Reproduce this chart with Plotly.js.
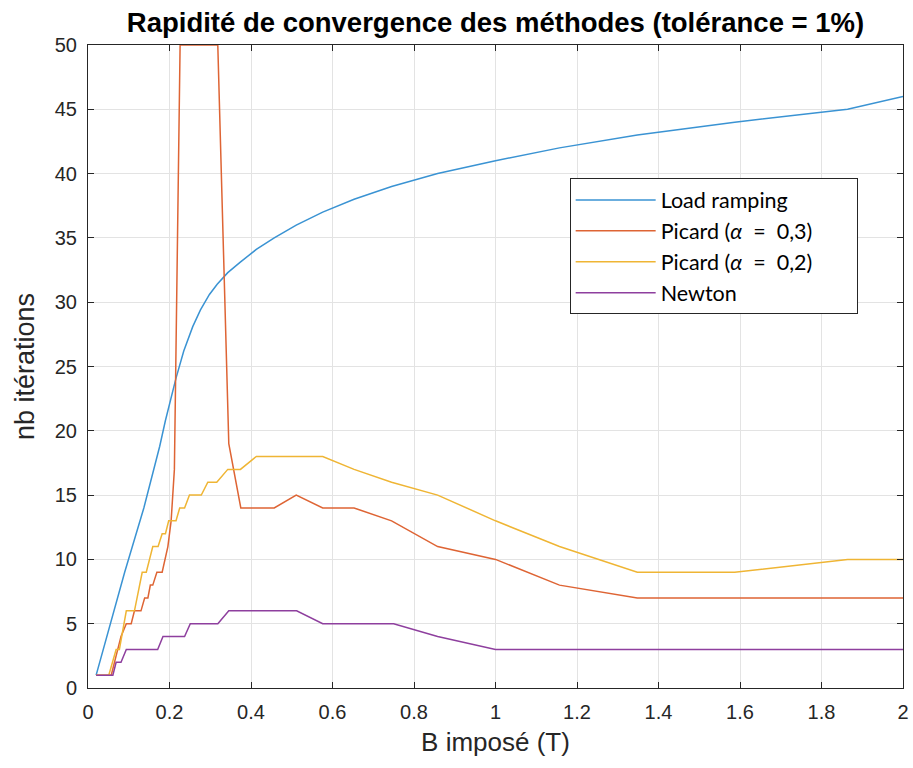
<!DOCTYPE html>
<html>
<head>
<meta charset="utf-8">
<script src="https://cdn.plot.ly/plotly-3.0.1.min.js"></script>
<style>html,body{margin:0;padding:0;background:#fff;}#chart{width:913px;height:768px;}</style>
</head>
<body>
<div id="chart"></div>
<script>
// B imposé (T) sample points and iteration counts
const bLoad = [0.02, 0.055, 0.09, 0.137, 0.161, 0.176, 0.19, 0.2, 0.216, 0.235, 0.257, 0.276, 0.298, 0.317, 0.343, 0.373, 0.413, 0.457, 0.511, 0.576, 0.653, 0.745, 0.858, 1.0, 1.157, 1.348, 1.587, 1.864, 2.0];
const nLoad = [1, 5, 9, 14, 17, 18.8, 20.8, 22.1, 24.1, 26.2, 28.1, 29.4, 30.6, 31.4, 32.3, 33.1, 34.1, 35, 36, 37, 38, 39, 40, 41, 42, 43, 44, 45, 46];

const bPicard3 = [0.02, 0.057, 0.073, 0.081, 0.094, 0.106, 0.114, 0.13, 0.139, 0.147, 0.153, 0.159, 0.169, 0.182, 0.196, 0.204, 0.212, 0.226, 0.3185, 0.3455, 0.375, 0.457, 0.511, 0.576, 0.653, 0.745, 0.858, 1.0, 1.157, 1.348, 2.0];
const nPicard3 = [1, 1, 3, 4, 5, 5, 6, 6, 7, 7, 8, 8, 9, 9, 11, 13, 17, 50, 50, 19, 14, 14, 15, 14, 14, 13, 11, 10, 8, 7, 7];

const bPicard2 = [0.02, 0.051, 0.069, 0.077, 0.094, 0.114, 0.133, 0.143, 0.159, 0.172, 0.182, 0.19, 0.198, 0.216, 0.225, 0.237, 0.249, 0.278, 0.294, 0.316, 0.343, 0.374, 0.413, 0.576, 0.653, 0.745, 0.858, 1.0, 1.157, 1.348, 1.587, 1.864, 2.0];
const nPicard2 = [1, 1, 3, 3, 6, 6, 9, 9, 11, 11, 12, 12, 13, 13, 14, 14, 15, 15, 16, 16, 17, 17, 18, 18, 17, 16, 15, 13, 11, 9, 9, 10, 10];

const bNewton = [0.02, 0.061, 0.069, 0.081, 0.094, 0.171, 0.184, 0.237, 0.251, 0.3186, 0.3455, 0.512, 0.576, 0.75, 0.858, 1.0, 2.0];
const nNewton = [1, 1, 2, 2, 3, 3, 4, 4, 5, 5, 6, 6, 5, 5, 4, 3, 3];

const seriesNames = ['Load ramping', 'Picard (<i>α</i>\u00a0 =\u00a0 0,3)', 'Picard (<i>α</i>\u00a0 =\u00a0 0,2)', 'Newton'];
const legendPad = '\u00a0\u00a0\u00a0\u00a0\u00a0\u00a0\u00a0';
const xTickVals = [0, 0.2, 0.4, 0.6, 0.8, 1, 1.2, 1.4, 1.6, 1.8, 2];
const xTickText = ['0', '0.2', '0.4', '0.6', '0.8', '1', '1.2', '1.4', '1.6', '1.8', '2'];
const yTickVals = [0, 5, 10, 15, 20, 25, 30, 35, 40, 45, 50];

const colors = ['#3a93d3', '#de6434', '#efb534', '#8e3f9e'];
const xs = [bLoad, bPicard3, bPicard2, bNewton];
const ys = [nLoad, nPicard3, nPicard2, nNewton];

const traces = xs.map((x, i) => ({
  x: x, y: ys[i], name: seriesNames[i] + legendPad, type: 'scatter', mode: 'lines',
  line: {color: colors[i], width: 1.5}
}));

const axisCommon = {
  showline: true, linecolor: '#262626', linewidth: 1, mirror: 'ticks',
  ticks: 'inside', ticklen: 6, tickcolor: '#262626',
  showgrid: true, gridcolor: '#e3e3e3', gridwidth: 1, zeroline: false,
  tickfont: {family: 'Liberation Sans, Arial, sans-serif', size: 20, color: '#262626'}
};

const layout = {
  width: 913, height: 768,
  margin: {l: 88, r: 10, t: 45, b: 80},
  paper_bgcolor: '#ffffff', plot_bgcolor: '#ffffff',
  title: {
    text: '<b>Rapidité de convergence des méthodes (tolérance = 1%)</b>',
    font: {family: 'Liberation Sans, Arial, sans-serif', size: 27.5, color: '#000'},
    x: 0.5, xref: 'paper', xanchor: 'center', y: 0.971, yref: 'container', yanchor: 'middle'
  },
  xaxis: Object.assign({}, axisCommon, {
    range: [0, 2], tickvals: xTickVals, ticktext: xTickText, ticklabelstandoff: 6,
    title: {text: 'B imposé (T)', font: {family: 'Liberation Sans, Arial, sans-serif', size: 26, color: '#262626'}, standoff: 10}
  }),
  yaxis: Object.assign({}, axisCommon, {
    range: [0, 50], tickvals: yTickVals, ticklabelstandoff: 6,
    title: {text: 'nb itérations', font: {family: 'Liberation Sans, Arial, sans-serif', size: 27, color: '#262626'}, standoff: 12}
  }),
  legend: {
    x: 0.591, y: 0.7925, xanchor: 'left', yanchor: 'top',
    bgcolor: '#ffffff', bordercolor: '#262626', borderwidth: 1,
    font: {family: 'Lato, Noto Sans, sans-serif', size: 21.5, color: '#000'},
    itemwidth: 80, tracegroupgap: 0
  },
  showlegend: true
};

Plotly.newPlot('chart', traces, layout, {displayModeBar: false, staticPlot: true});
</script>
</body>
</html>
